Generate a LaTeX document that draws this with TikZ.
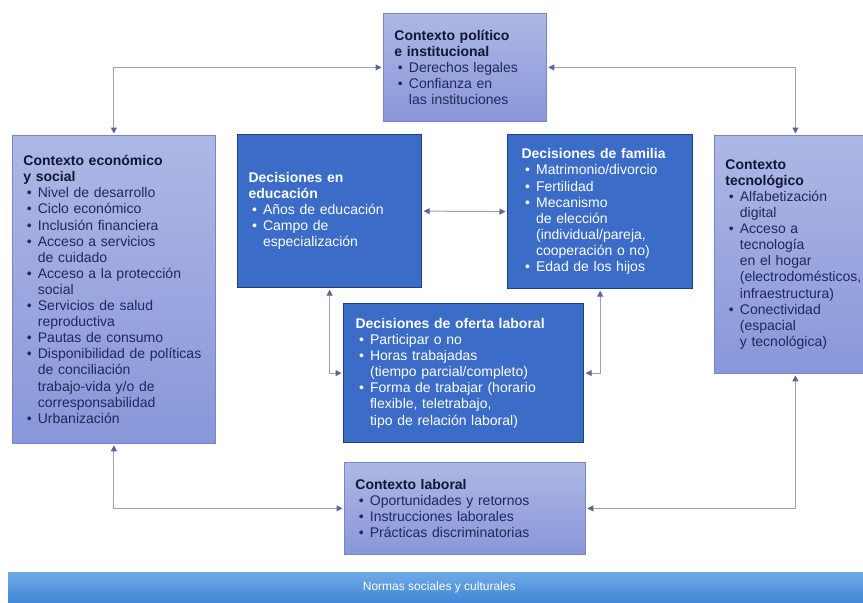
\documentclass[tikz,border=0pt]{standalone}
\usepackage{fontspec}
\setmainfont{Liberation Sans}
\usetikzlibrary{arrows.meta}
\definecolor{ctxtop}{RGB}{174,184,229}
\definecolor{ctxbot}{RGB}{136,151,217}
\definecolor{ctxline}{RGB}{120,134,196}
\definecolor{ctxtext}{RGB}{32,40,92}
\definecolor{ctxtitle}{RGB}{16,22,52}
\definecolor{decfill}{RGB}{58,108,200}
\definecolor{decline}{RGB}{34,62,128}
\definecolor{conncol}{RGB}{155,160,178}
\definecolor{tipcol}{RGB}{92,102,142}
\definecolor{bartop}{RGB}{112,170,230}
\definecolor{barbot}{RGB}{62,134,214}
\hyphenpenalty=10000\relax
\exhyphenpenalty=10000\relax
\newcommand\bul[1]{\par\noindent\hangindent=14.5pt\relax\hangafter=1\relax\makebox[14.5pt][l]{\hspace{3.5pt}\textbullet}{\let\\\newline #1}\par}
\newcommand\ttl[1]{\noindent\textbf{#1}}
\tikzset{
  box/.style={rectangle, anchor=north west, inner ysep=0pt, inner xsep=11pt, align=left,
    font={\fontsize{14}{16.1}\selectfont}},
  ctx/.style={box, draw=ctxline, line width=0.8pt, top color=ctxtop, bottom color=ctxbot, text=ctxtext},
  dec/.style={box, draw=decline, line width=1.2pt, fill=decfill, text=white},
  link/.style={draw=conncol, line width=1pt,
    {Triangle[length=6pt,width=6pt,color=tipcol]}-{Triangle[length=6pt,width=6pt,color=tipcol]},
    shorten <=1.5pt, shorten >=1.5pt},
  barbox/.style={rectangle, anchor=north west, top color=bartop, bottom color=barbot, text=white,
    font={\fontsize{12}{14}\selectfont}}
}
\begin{document}
\begin{tikzpicture}[x=1pt,y=-1pt]
\useasboundingbox (0,0) rectangle (863,603);
\fill[white] (0,0) rectangle (863,603);

\node[ctx, minimum width=163pt, minimum height=108pt, text width=141pt] (pol) at (383,13)
 {\ttl{\color{ctxtitle}Contexto político\\e institucional}
  \bul{Derechos legales}
  \bul{Confianza en\\las instituciones}};

\node[ctx, minimum width=203pt, minimum height=308pt, text width=181pt] (econ) at (12,135)
 {\ttl{\color{ctxtitle}Contexto económico\\y social}
  \bul{Nivel de desarrollo}
  \bul{Ciclo económico}
  \bul{Inclusión financiera}
  \bul{Acceso a servicios\\de cuidado}
  \bul{Acceso a la protección\\social}
  \bul{Servicios de salud\\reproductiva}
  \bul{Pautas de consumo}
  \bul{Disponibilidad de políticas\\de conciliación\\trabajo-vida y/o de\\corresponsabilidad}
  \bul{Urbanización}};

\node[dec, minimum width=184pt, minimum height=153pt, text width=162pt] (edu) at (237,134)
 {\ttl{Decisiones en\\educación}
  \bul{Años de educación}
  \bul{Campo de\\especialización}};

\node[dec, inner xsep=14pt, minimum width=185pt, minimum height=154pt, text width=157pt] (fam) at (507,134)
 {\ttl{Decisiones de familia}
  \bul{Matrimonio/divorcio}
  \bul{Fertilidad}
  \bul{Mecanismo\\de elección\\(individual/pareja,\\cooperación o no)}
  \bul{Edad de los hijos}};

\node[dec, inner xsep=12pt, minimum width=240pt, minimum height=139pt, text width=216pt] (ofe) at (343,303)
 {\ttl{Decisiones de oferta laboral}
  \bul{Participar o no}
  \bul{Horas trabajadas\\(tiempo parcial/completo)}
  \bul{Forma de trabajar (horario\\flexible, teletrabajo,\\tipo de relación laboral)}};

\node[ctx, minimum width=162pt, minimum height=238pt, text width=140pt] (tec) at (714,135)
 {\ttl{\color{ctxtitle}Contexto\\tecnológico}
  \bul{Alfabetización\\digital}
  \bul{Acceso a\\tecnología\\en el hogar\\(electrodomésticos,\\infraestructura)}
  \bul{Conectividad\\(espacial\\y tecnológica)}};

\node[ctx, minimum width=241pt, minimum height=92pt, text width=219pt] (lab) at (344,462)
 {\ttl{\color{ctxtitle}Contexto laboral}
  \bul{Oportunidades y retornos}
  \bul{Instrucciones laborales}
  \bul{Prácticas discriminatorias}};

\node[barbox, minimum width=862pt, minimum height=31pt] (norm) at (8,572) {Normas sociales y culturales};

\draw[link] (econ.north) |- (pol.west);
\draw[link] (tec.north) |- (pol.east);
\draw[link] (econ.south) |- (lab.west);
\draw[link] (tec.south) |- (lab.east);
\draw[link] (edu.east) -- (fam.west);
\draw[link] (edu.south) |- (ofe.west);
\draw[link] (fam.south) |- (ofe.east);
\end{tikzpicture}
\end{document}
